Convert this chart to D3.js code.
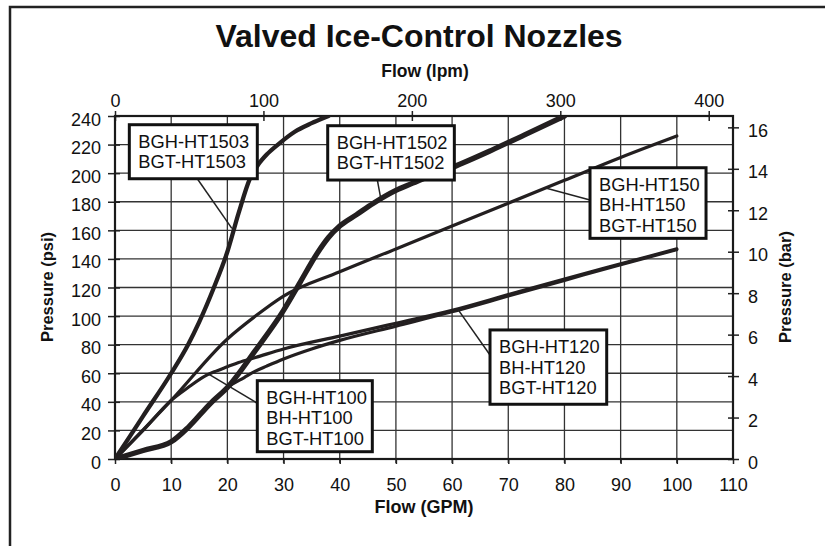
<!DOCTYPE html>
<html>
<head>
<meta charset="utf-8">
<script src="https://cdn.jsdelivr.net/npm/d3@7"></script>
<style>
  body { margin: 0; background: #fff; }
  svg text { font-family: "Liberation Sans", Arial, sans-serif; fill: #111; }
</style>
</head>
<body>
<svg id="svg"></svg>
<script>
// flow in GPM, pressure in psi
var gpmTicks = [0, 10, 20, 30, 40, 50, 60, 70, 80, 90, 100, 110];
var psiTicks = [0, 20, 40, 60, 80, 100, 120, 140, 160, 180, 200, 220, 240];
var lpmTicks = [0, 100, 200, 300, 400];
var barTicks = [0, 2, 4, 6, 8, 10, 12, 14, 16];

var ht1503 = [[0,0],[5,30],[10,60],[13,80],[15,96],[17.5,119],[20,145],[22,172],[24,196],[25.5,206],[27,213],[29,220],[32,229],[35,235],[38,240]];
var ht1502 = [[0,0],[5,6],[10,12],[13,22],[17,39],[20,50],[25,76],[30,104],[33,124],[36,144],[38,155],[40,163],[43,171],[46,179],[50,188],[53,193],[56,198],[60,204],[67,216],[73,227],[80,240]];
var ht150 = [[0,0],[10,41],[20,84],[25,100],[30,114],[40,131],[50,147],[60,163],[70,179],[80,195],[90,211],[100,226]];
var ht100 = [[0,0],[5,20],[10,41],[13,50],[16,58],[18,61.5],[20,64.5],[22,67.5],[25,71],[30,77],[40,86],[50,95],[60,104],[70,115],[80,126],[90,136.5],[100,147]];
var ht120 = [[0,0],[5,6],[10,12],[13,22],[17,39],[20,50],[23,57],[25,61.5],[27,65],[30,70],[35,77],[40,83],[50,93],[60,103],[70,114],[80,125],[90,136],[100,146.5]];

// callout boxes: box = [x0, yTop, x1, yBottom] in GPM / psi, leader from -> to
var callouts = [
  {lines: ["BGH-HT1503", "BGT-HT1503"], box: [2.55, 233.9, 25.33, 196.1], from: [14.65, 196.1], to: [20.8, 161.4]},
  {lines: ["BGH-HT1502", "BGT-HT1502"], box: [37.86, 233.2, 60.4, 195.2], from: [46.7, 195.2], to: [47.3, 182.4]},
  {lines: ["BGH-HT150", "BH-HT150", "BGT-HT150"], box: [84.55, 203.8, 105.2, 154.4], from: [84.55, 181.2], to: [76.8, 189.4]},
  {lines: ["BGH-HT120", "BH-HT120", "BGT-HT120"], box: [66.75, 90.3, 87.52, 38.3], from: [66.75, 72.8], to: [61.1, 104.3]},
  {lines: ["BGH-HT100", "BH-HT100", "BGT-HT100"], box: [25.33, 54.8, 45.8, 5.1], from: [25.33, 39], to: [16.6, 59.5]}
];

var curves = [
  {data: ht150, w: 3.2},
  {data: ht100, w: 3.2},
  {data: ht120, w: 3.2},
  {data: ht1503, w: 4.3},
  {data: ht1502, w: 5.3}
];

var W = 825, H = 546;
var margin = {left: 115, top: 116, right: 92, bottom: 87};
var pw = W - margin.left - margin.right;
var ph = H - margin.top - margin.bottom;
var LPM = 3.785, BAR = 14.5038;

var svg = d3.select("#svg").attr("width", W).attr("height", H);

// outer frame (runs off the page on right and bottom)
svg.append("rect")
  .attr("x", 10).attr("y", 7).attr("width", 900).attr("height", 600)
  .attr("fill", "none").attr("stroke", "#222").attr("stroke-width", 2.5);

var xScale = d3.scaleLinear().domain([0, 110]).range([0, pw]);
var yScale = d3.scaleLinear().domain([0, 240]).range([ph, 0]);
var lpmScale = d3.scaleLinear().domain([0, 110 * LPM]).range([0, pw]);
var barScale = d3.scaleLinear().domain([0, 240 / BAR]).range([ph, 0]);

var container = svg.append("g").attr("transform", `translate(${margin.left}, ${margin.top})`);

svg.append("defs").append("clipPath").attr("id", "clip")
  .append("rect").attr("x", 0).attr("y", 0).attr("width", pw).attr("height", ph);

// grid
container.append("g").selectAll("line")
  .data(gpmTicks.filter(d => d > 0 && d < 110))
  .enter().append("line")
  .attr("x1", d => xScale(d)).attr("x2", d => xScale(d))
  .attr("y1", 0).attr("y2", ph + 4)
  .attr("stroke", "#333").attr("stroke-width", 1.3);
container.append("g").selectAll("line")
  .data(psiTicks.filter(d => d > 0 && d < 240))
  .enter().append("line")
  .attr("x1", 0).attr("x2", pw)
  .attr("y1", d => yScale(d)).attr("y2", d => yScale(d))
  .attr("stroke", "#333").attr("stroke-width", 1.3);

// axes
function styleAxis(g, size) {
  g.select(".domain").remove();
  g.selectAll(".tick line").attr("stroke", "#222").attr("stroke-width", 1.5);
  g.selectAll(".tick text").attr("font-size", size).attr("fill", "#111");
}

var xAxis = container.append("g").attr("transform", `translate(0, ${ph})`)
  .call(d3.axisBottom(xScale).tickValues(gpmTicks).tickSize(5).tickPadding(14.5));
styleAxis(xAxis, 18);

var yAxis = container.append("g")
  .call(d3.axisLeft(yScale).tickValues(psiTicks).tickSize(6).tickPadding(8));
styleAxis(yAxis, 18);
yAxis.selectAll(".tick text").attr("dy", "0.5em");
yAxis.selectAll(".tick line").attr("x2", -7).attr("x1", 5);

var topAxis = container.append("g")
  .call(d3.axisTop(lpmScale).tickValues(lpmTicks).tickSize(5).tickPadding(4));
styleAxis(topAxis, 18);
topAxis.selectAll(".tick line").attr("y1", 5);

var rightAxis = container.append("g").attr("transform", `translate(${pw}, 0)`)
  .call(d3.axisRight(barScale).tickValues(barTicks).tickSize(6).tickPadding(9));
styleAxis(rightAxis, 18);
rightAxis.selectAll(".tick text").attr("dy", "0.5em");
rightAxis.selectAll(".tick line").attr("x1", -5);

// plot frame
container.append("rect")
  .attr("x", 0).attr("y", 0).attr("width", pw).attr("height", ph)
  .attr("fill", "none").attr("stroke", "#1a1a1a").attr("stroke-width", 2.2);

// curves
var line = d3.line()
  .x(d => xScale(d[0]))
  .y(d => yScale(d[1]))
  .curve(d3.curveMonotoneX);

container.append("g").attr("clip-path", "url(#clip)")
  .selectAll("path")
  .data(curves)
  .enter().append("path")
  .attr("d", d => line(d.data))
  .attr("fill", "none")
  .attr("stroke", "#231f20")
  .attr("stroke-width", d => d.w)
  .attr("stroke-linejoin", "round")
  .attr("stroke-linecap", "round");

// callouts
var co = container.append("g");
co.selectAll("line")
  .data(callouts)
  .enter().append("line")
  .attr("x1", d => xScale(d.from[0])).attr("y1", d => yScale(d.from[1]))
  .attr("x2", d => xScale(d.to[0])).attr("y2", d => yScale(d.to[1]))
  .attr("stroke", "#222").attr("stroke-width", 1.5);

var boxes = co.selectAll("g.box")
  .data(callouts)
  .enter().append("g").attr("class", "box")
  .attr("transform", d => `translate(${xScale(d.box[0])}, ${yScale(d.box[1])})`);
boxes.append("rect")
  .attr("width", d => xScale(d.box[2]) - xScale(d.box[0]))
  .attr("height", d => yScale(d.box[3]) - yScale(d.box[1]))
  .attr("fill", "#fff").attr("stroke", "#111").attr("stroke-width", 3);
boxes.selectAll("text")
  .data(d => d.lines)
  .enter().append("text")
  .attr("x", 9)
  .attr("y", (d, i) => 23 + i * 20.6)
  .attr("font-size", 18.3)
  .text(d => d);

// titles
svg.append("text").attr("x", 419).attr("y", 47).attr("text-anchor", "middle")
  .attr("font-size", 32).attr("font-weight", "bold").text("Valved Ice-Control Nozzles");
svg.append("text").attr("x", 425).attr("y", 77).attr("text-anchor", "middle")
  .attr("font-size", 17.5).attr("font-weight", "bold").text("Flow (lpm)");
svg.append("text").attr("x", 424).attr("y", 513).attr("text-anchor", "middle")
  .attr("font-size", 18).attr("font-weight", "bold").text("Flow (GPM)");
svg.append("text").attr("transform", "translate(53, 287) rotate(-90)").attr("text-anchor", "middle")
  .attr("font-size", 16.5).attr("font-weight", "bold").text("Pressure (psi)");
svg.append("text").attr("transform", "translate(791, 287) rotate(-90)").attr("text-anchor", "middle")
  .attr("font-size", 16.5).attr("font-weight", "bold").text("Pressure (bar)");
</script>
</body>
</html>
